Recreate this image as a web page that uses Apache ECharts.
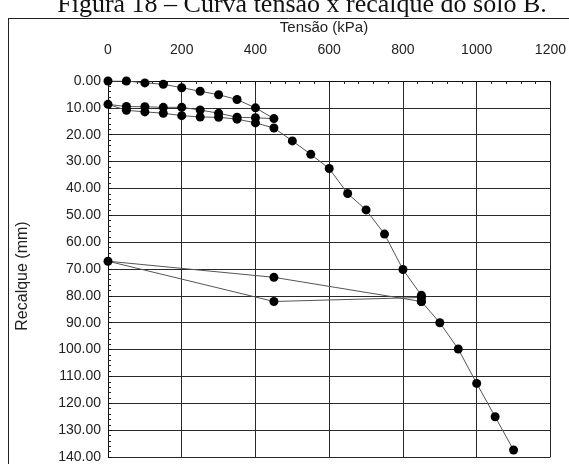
<!DOCTYPE html>
<html>
<head>
<meta charset="utf-8">
<script src="https://cdn.jsdelivr.net/npm/echarts@6/dist/echarts.min.js"></script>
<style>html,body{margin:0;padding:0;background:#fff}#c{width:569px;height:464px}</style>
</head>
<body>
<div id="c"></div>
<script>
const tensao = [0,50,100,150,200,250,300,350,400,450,
  400,350,300,250,200,150,100,50,0,
  50,100,150,200,250,300,350,400,450,500,550,600,650,700,750,800,850,850,
  450,0,450,850,850,900,950,1000,1050,1100];
const recalque = [0,0,0.7,1.2,2.5,3.8,5.1,6.9,10.0,14.0,
  13.7,13.5,12.0,10.8,9.8,9.8,9.6,9.5,8.7,
  10.9,11.5,12.0,12.9,13.4,13.5,14.2,15.6,17.5,22.3,27.3,32.6,41.9,48.0,57.0,70.2,79.8,82.1,
  73.1,67.1,82.1,80.6,82.1,90.0,99.8,112.6,125.0,137.4];
const xTicks = [0,200,400,600,800,1000,1200];
const yTicks = [0,10,20,30,40,50,60,70,80,90,100,110,120,130,140];

const chart = echarts.init(document.getElementById('c'), null, {renderer:'canvas'});
const data = tensao.map((t,i)=>[t, recalque[i]]);
const sans = '"Liberation Sans", Arial, sans-serif';
const serif = '"Liberation Serif", "Times New Roman", serif';
chart.setOption({
  animation:false,
  backgroundColor:'#fff',
  grid:{left:108, top:81, right:11, bottom:7, containLabel:false},
  xAxis:{
    type:'value', position:'top', min:xTicks[0], max:xTicks[xTicks.length-1], interval:200,
    axisLine:{show:true, lineStyle:{color:'#111', width:1}},
    axisTick:{show:true, inside:true, length:4, lineStyle:{color:'#111'}},
    minorTick:{show:true, splitNumber:5, length:3, lineStyle:{color:'#222'}},
    splitLine:{show:true, lineStyle:{color:'#2a2a2a', width:1}},
    axisLabel:{color:'#222', fontFamily:sans, fontSize:14, margin:24, formatter:v=>String(v)}
  },
  yAxis:{
    type:'value', inverse:true, min:yTicks[0], max:yTicks[yTicks.length-1], interval:10,
    axisLine:{show:true, lineStyle:{color:'#111', width:1}},
    axisTick:{show:true, inside:true, length:4, lineStyle:{color:'#111'}},
    minorTick:{show:true, splitNumber:5, length:3, lineStyle:{color:'#222'}},
    splitLine:{show:true, lineStyle:{color:'#2a2a2a', width:1}},
    axisLabel:{color:'#222', fontFamily:sans, fontSize:14, margin:7,
      formatter:v=>v.toFixed(2)}
  },
  series:[{
    type:'line', data:data, symbol:'circle', symbolSize:9,
    itemStyle:{color:'#000'},
    lineStyle:{color:'#555', width:1},
    z:5
  }],
  graphic:[
    {type:'text', x:302, y:5, style:{text:'Figura 18 – Curva tensão x recalque do solo B.', fontFamily:serif, fontSize:26, fill:'#111', align:'center', verticalAlign:'middle'}},
    {type:'line', shape:{x1:8, y1:18.5, x2:569, y2:18.5}, style:{stroke:'#222', lineWidth:1}},
    {type:'line', shape:{x1:8.5, y1:18, x2:8.5, y2:464}, style:{stroke:'#222', lineWidth:1}},
    {type:'text', x:324, y:28, style:{text:'Tensão (kPa)', fontFamily:sans, fontSize:15, fill:'#222', align:'center', verticalAlign:'middle'}},
    {type:'text', x:23, y:276, rotation:Math.PI/2, style:{text:'Recalque (mm)', fontFamily:sans, fontSize:16, fill:'#222', align:'center', verticalAlign:'middle'}}
  ]
});
</script>
</body>
</html>
